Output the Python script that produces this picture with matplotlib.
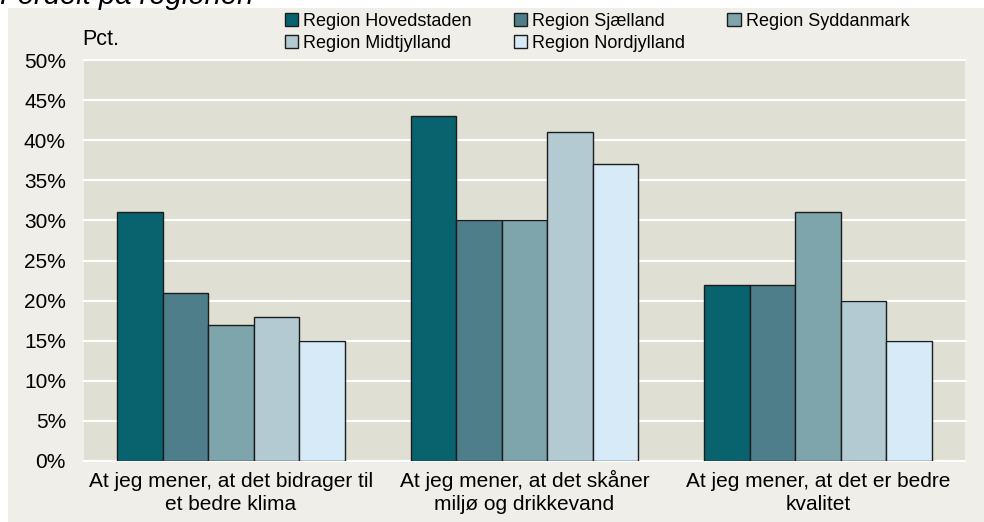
import numpy as np
import matplotlib
matplotlib.use('Agg')
import matplotlib.pyplot as plt
from matplotlib.patches import Rectangle

plt.rcParams['font.family'] = ['Liberation Sans', 'DejaVu Sans']

# Data
kategorier = ['At jeg mener, at det bidrager til\net bedre klima',
              'At jeg mener, at det skåner\nmiljø og drikkevand',
              'At jeg mener, at det er bedre\nkvalitet']
regioner = ['Region Hovedstaden', 'Region Sjælland', 'Region Syddanmark',
            'Region Midtjylland', 'Region Nordjylland']
hovedstaden = [31, 43, 22]
sjaelland   = [21, 30, 22]
syddanmark  = [17, 30, 31]
midtjylland = [18, 41, 20]
nordjylland = [15, 37, 15]
yticks = np.arange(0, 51, 5)

serier = [hovedstaden, sjaelland, syddanmark, midtjylland, nordjylland]
farver = ['#08636F', '#4E7E8A', '#7EA4AC', '#B3CAD3', '#D6EAF8']

BG_FIG = '#EFEEE8'
BG_AX = '#E0DFD4'

fig = plt.figure(figsize=(9.84, 5.22), dpi=100, facecolor='white')
# beige baggrund, men hvid stribe øverst/venstre
fig.patches.append(Rectangle((8 / 984, 0), 1, 1 - 8 / 522,
                             transform=fig.transFigure, facecolor=BG_FIG,
                             edgecolor='none', zorder=-10))
fig.text(0.0, 1 - 4 / 522, 'Fordelt på regionen', fontsize=21,
         fontstyle='italic', va='baseline', ha='left')

ax = fig.add_axes([84 / 984, 61 / 522, (965 - 84) / 984, (462 - 61) / 522])
ax.set_facecolor(BG_AX)

x = np.arange(len(kategorier))
bredde = 0.155
for i, (vals, farve, navn) in enumerate(zip(serier, farver, regioner)):
    ax.bar(x + (i - 2) * bredde, vals, width=bredde, color=farve,
           edgecolor='#1c1c1c', linewidth=1.0, label=navn, zorder=3)

for v in yticks:
    ax.axhline(v, color='white', linewidth=1.5, zorder=1, clip_on=False)

ax.set_ylim(0, 50)
ax.set_xlim(-0.5, 2.5)
ax.set_yticks(yticks)
ax.set_yticklabels([f'{v}%' for v in yticks], fontsize=15)
ax.set_xticks(x)
# baseline-justering (sidste linje) så etiketterne står ens, å/ø skubber ellers ned
ax.set_xticklabels(kategorier, fontsize=15, linespacing=1.22, va='baseline')
ax.tick_params(length=0, pad=13, axis='y')
ax.tick_params(length=0, pad=35, axis='x')
for s in ax.spines.values():
    s.set_visible(False)

ax.text(-0.002, 1.025, 'Pct.', transform=ax.transAxes, fontsize=15.5,
        ha='left', va='bottom')

handles, labels = ax.get_legend_handles_labels()
# rækkefølge så de fylder rækkevis (3 kolonner)
order = [0, 3, 1, 4, 2]
leg = fig.legend([handles[k] for k in order], [labels[k] for k in order],
                 ncol=3, loc='upper left', bbox_to_anchor=(280 / 984, 1 - 8 / 522),
                 frameon=False, fontsize=13, handlelength=0.75,
                 handleheight=0.75, handletextpad=0.3, columnspacing=2.3,
                 labelspacing=0.3, borderaxespad=0, borderpad=0.25)

fig.savefig('out.png', dpi=100, facecolor='white')
plt.close(fig)
